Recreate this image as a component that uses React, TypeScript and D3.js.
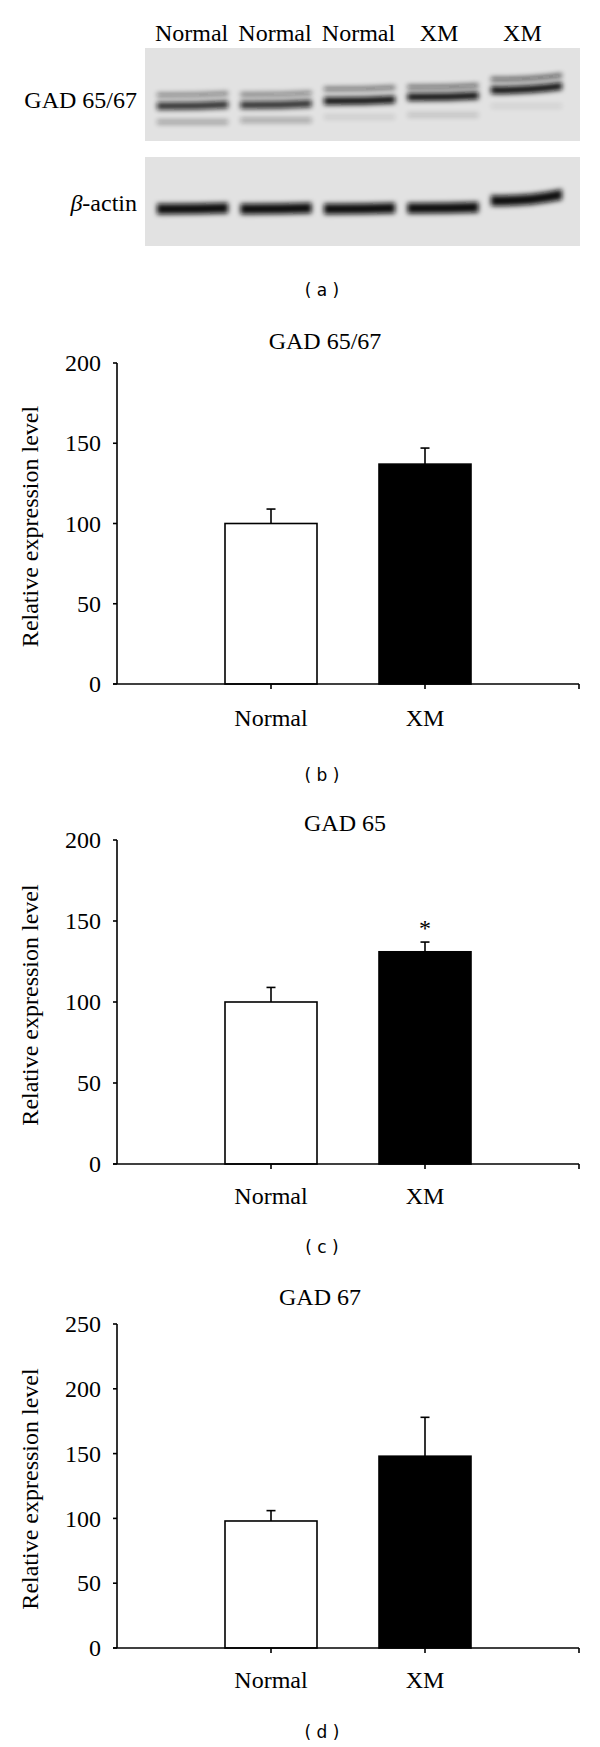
import React from "react";
import * as d3 from "d3";

// ---------- data ----------
const blotLanes = ["Normal", "Normal", "Normal", "XM", "XM"];
// migration positions (fraction of blot height) and intensities
const gadUpperPos = [0.505, 0.5, 0.44, 0.42, 0.335];
const gadUpperInt = [0.5, 0.5, 0.58, 0.62, 0.68];
const gadMainPos = [0.624, 0.613, 0.57, 0.527, 0.452];
const gadMainInt = [0.85, 0.85, 1, 1, 1];
const gadLowerPos = [0.796, 0.778, 0.742, 0.72, 0.624];
const gadLowerInt = [0.3, 0.3, 0.1, 0.15, 0.08];
const actinPos = [0.584, 0.584, 0.584, 0.575, 0.49];
const actinInt = [1, 1, 1, 1, 1];

const categories = ["Normal", "XM"];

const gad6567Values = [100, 137];
const gad6567Err = [109, 147];
const gad6567Ticks = [0, 50, 100, 150, 200];

const gad65Values = [100, 131];
const gad65Err = [109, 137];
const gad65Ticks = [0, 50, 100, 150, 200];
const gad65Sig = ["", "*"];

const gad67Values = [98, 148];
const gad67Err = [106, 178];
const gad67Ticks = [0, 50, 100, 150, 200, 250];

// ---------- styles ----------
const SERIF = "'Liberation Serif', 'Times New Roman', serif";
const SANS = "'DejaVu Sans', Verdana, sans-serif";

function Blot() {
  const lane = d3
    .scaleBand<number>()
    .domain(d3.range(blotLanes.length))
    .range([155, 564])
    .paddingInner(0.1);
  const y1 = d3.scaleLinear().domain([0, 1]).range([48, 141]);
  const y2 = d3.scaleLinear().domain([0, 1]).range([157, 246]);

  const band = (
    key: string,
    i: number,
    y: number,
    h: number,
    op: number,
    tilt: number
  ) => {
    const x0 = (lane(i) as number) + 2;
    const x1 = (lane(i) as number) + lane.bandwidth() - 2;
    const xm = (x0 + x1) / 2;
    const p = d3.path();
    p.moveTo(x0, y - h / 2);
    p.quadraticCurveTo(xm, y - h / 2 + tilt * 0.2, x1, y - h / 2 - tilt);
    p.lineTo(x1, y + h / 2 - tilt);
    p.quadraticCurveTo(xm, y + h / 2 + tilt * 0.2, x0, y + h / 2);
    p.closePath();
    return (
      <path
        key={key}
        d={p.toString()}
        fill="#0a0a0a"
        opacity={op}
        filter="url(#blotBlur)"
      />
    );
  };

  return (
    <g>
      <defs>
        <filter id="blotBlur" x="-20%" y="-200%" width="140%" height="500%">
          <feGaussianBlur stdDeviation="2.4" />
        </filter>
      </defs>
      {blotLanes.map((l, i) => (
        <text
          key={"h" + i}
          x={(lane(i) as number) + lane.bandwidth() / 2 - (i >= 3 ? 4 : 1)}
          y={41}
          textAnchor="middle"
          fontFamily={SERIF}
          fontSize={24}
        >
          {l}
        </text>
      ))}
      <rect x={145} y={48} width={435} height={93} fill="#e2e2e2" />
      <rect x={145} y={157} width={435} height={89} fill="#e2e2e2" />
      {blotLanes.map((_, i) =>
        band("u" + i, i, y1(gadUpperPos[i]), 4, gadUpperInt[i], i === 4 ? 4 : 1.5)
      )}
      {blotLanes.map((_, i) =>
        band("m" + i, i, y1(gadMainPos[i]), 7.5, gadMainInt[i], i === 4 ? 4 : 1.5)
      )}
      {blotLanes.map((_, i) =>
        band("l" + i, i, y1(gadLowerPos[i]), 5, gadLowerInt[i], 0)
      )}
      {blotLanes.map((_, i) =>
        band("a" + i, i, y2(actinPos[i]), 10.5, actinInt[i], i === 4 ? 6 : 1)
      )}
      <text
        x={137}
        y={108}
        textAnchor="end"
        fontFamily={SERIF}
        fontSize={24}
      >
        GAD 65/67
      </text>
      <text
        x={137}
        y={211}
        textAnchor="end"
        fontFamily={SERIF}
        fontSize={24}
      >
        <tspan fontStyle="italic">β</tspan>-actin
      </text>
      <text x={322} y={296} textAnchor="middle" fontFamily={SANS} fontSize={17}>
        ( a )
      </text>
    </g>
  );
}

type PanelProps = {
  title: string;
  titleX: number;
  titleBaseline: number;
  yTop: number;
  yBottom: number;
  ticks: number[];
  values: number[];
  errs: number[];
  sig?: string[];
  labelBaseline: number;
  letter: string;
  letterBaseline: number;
};

function BarPanel(props: PanelProps) {
  const {
    title,
    titleX,
    titleBaseline,
    yTop,
    yBottom,
    ticks,
    values,
    errs,
    sig,
    labelBaseline,
    letter,
    letterBaseline,
  } = props;
  const y = d3
    .scaleLinear()
    .domain([0, ticks[ticks.length - 1]])
    .range([yBottom, yTop]);
  const x = d3
    .scalePoint<string>()
    .domain(["_l", ...categories, "_r"])
    .range([117, 579]);
  const barW = 92;
  const sw = 1.6;

  return (
    <g>
      <text
        x={titleX}
        y={titleBaseline}
        textAnchor="middle"
        fontFamily={SERIF}
        fontSize={24}
      >
        {title}
      </text>
      {categories.map((c, i) => {
        const cx = x(c) as number;
        return (
          <g key={c}>
            <rect
              x={cx - barW / 2}
              y={y(values[i])}
              width={barW}
              height={y(0) - y(values[i])}
              fill={i === 0 ? "#ffffff" : "#000000"}
              stroke="#000"
              strokeWidth={sw}
            />
            <line
              x1={cx}
              x2={cx}
              y1={y(values[i])}
              y2={y(errs[i])}
              stroke="#000"
              strokeWidth={sw}
            />
            <line
              x1={cx - 4.5}
              x2={cx + 4.5}
              y1={y(errs[i])}
              y2={y(errs[i])}
              stroke="#000"
              strokeWidth={sw}
            />
            {sig && sig[i] ? (
              <text
                x={cx}
                y={y(errs[i]) - 6}
                textAnchor="middle"
                fontFamily={SERIF}
                fontSize={24}
              >
                {sig[i]}
              </text>
            ) : null}
          </g>
        );
      })}
      <line x1={117} x2={117} y1={yTop} y2={yBottom} stroke="#000" strokeWidth={sw} />
      {ticks.map((t) => (
        <g key={t}>
          <line x1={113} x2={117} y1={y(t)} y2={y(t)} stroke="#000" strokeWidth={sw} />
          <text
            x={101}
            y={y(t)}
            dy="0.34em"
            textAnchor="end"
            fontFamily={SERIF}
            fontSize={24}
          >
            {t}
          </text>
        </g>
      ))}
      <line x1={113} x2={579} y1={yBottom} y2={yBottom} stroke="#000" strokeWidth={sw} />
      {[...categories, "_r"].map((c) => (
        <line
          key={"t" + c}
          x1={x(c) as number}
          x2={x(c) as number}
          y1={yBottom}
          y2={yBottom + 5}
          stroke="#000"
          strokeWidth={sw}
        />
      ))}
      {categories.map((c) => (
        <text
          key={"l" + c}
          x={x(c) as number}
          y={labelBaseline}
          textAnchor="middle"
          fontFamily={SERIF}
          fontSize={24}
        >
          {c}
        </text>
      ))}
      <text
        transform={`translate(38,${(yTop + yBottom) / 2 + 3}) rotate(-90)`}
        textAnchor="middle"
        fontFamily={SERIF}
        fontSize={24}
      >
        Relative expression level
      </text>
      <text
        x={322}
        y={letterBaseline}
        textAnchor="middle"
        fontFamily={SANS}
        fontSize={17}
      >
        {`( ${letter} )`}
      </text>
    </g>
  );
}

export default function App() {
  return (
    <svg
      width={600}
      height={1747}
      style={{ position: "absolute", left: 0, top: 0, background: "#fff" }}
    >
      <rect x={0} y={0} width={600} height={1747} fill="#fff" />
      <Blot />
      <BarPanel
        title="GAD 65/67"
        titleX={325}
        titleBaseline={349}
        yTop={363}
        yBottom={684}
        ticks={gad6567Ticks}
        values={gad6567Values}
        errs={gad6567Err}
        labelBaseline={726}
        letter="b"
        letterBaseline={781}
      />
      <BarPanel
        title="GAD 65"
        titleX={345}
        titleBaseline={831}
        yTop={840}
        yBottom={1164}
        ticks={gad65Ticks}
        values={gad65Values}
        errs={gad65Err}
        sig={gad65Sig}
        labelBaseline={1204}
        letter="c"
        letterBaseline={1253}
      />
      <BarPanel
        title="GAD 67"
        titleX={320}
        titleBaseline={1305}
        yTop={1324}
        yBottom={1648}
        ticks={gad67Ticks}
        values={gad67Values}
        errs={gad67Err}
        labelBaseline={1688}
        letter="d"
        letterBaseline={1738}
      />
    </svg>
  );
}
